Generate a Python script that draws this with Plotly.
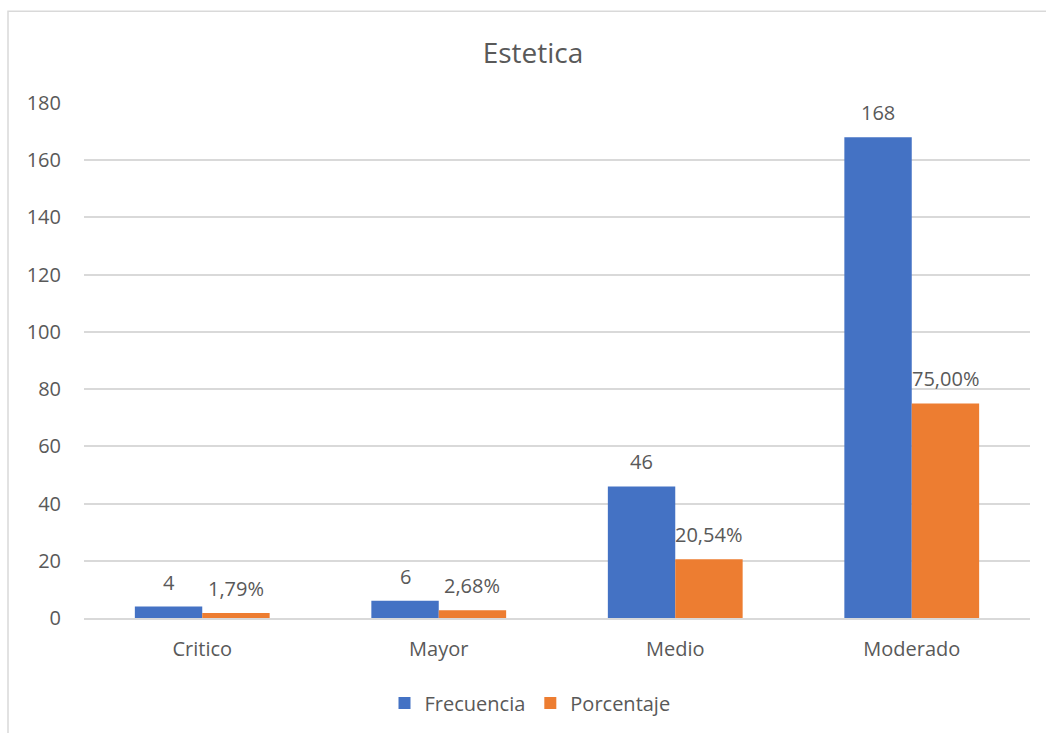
import plotly.graph_objects as go

categories = ["Critico", "Mayor", "Medio", "Moderado"]
frecuencia = [4, 6, 46, 168]
porcentaje = [1.79, 2.68, 20.54, 75.00]
frec_labels = ["4", "6", "46", "168"]
porc_labels = ["1,79%", "2,68%", "20,54%", "75,00%"]
y_ticks = [0, 20, 40, 60, 80, 100, 120, 140, 160, 180]

BLUE = "#4472C4"
ORANGE = "#ED7D31"
TXT = "#595959"
FONT = "Open Sans"

W, H = 1046, 733
ML, MR, MT, MB = 84, 16, 103, 114
PW = W - ML - MR
PH = H - MT - MB
BARGAP = 0.43
bar_px = PW / len(categories) * (1 - BARGAP) / 2

fig = go.Figure()
fig.add_trace(go.Bar(name="Frecuencia", x=categories, y=frecuencia, marker_color=BLUE,
                     marker_line_width=0))
fig.add_trace(go.Bar(name="Porcentaje", x=categories, y=porcentaje, marker_color=ORANGE,
                     marker_line_width=0))

annotations = []
for c, v, t in zip(categories, frecuencia, frec_labels):
    annotations.append(dict(x=c, y=v, xref="x", yref="y", text=t, showarrow=False,
                            xshift=-bar_px / 2, yshift=9, yanchor="bottom",
                            font=dict(size=20, color=TXT, family=FONT)))
for c, v, t in zip(categories, porcentaje, porc_labels):
    annotations.append(dict(x=c, y=v, xref="x", yref="y", text=t, showarrow=False,
                            xshift=bar_px / 2, yshift=9, yanchor="bottom",
                            font=dict(size=20, color=TXT, family=FONT)))

fig.update_layout(
    width=W, height=H,
    margin=dict(l=ML, r=MR, t=MT, b=MB),
    paper_bgcolor="white", plot_bgcolor="white",
    barmode="group", bargap=BARGAP, bargroupgap=0,
    font=dict(family=FONT, color=TXT, size=20),
    title=dict(text="Estetica", x=533 / W, xanchor="center",
               y=1 - 53 / H, yanchor="middle", font=dict(size=28, color=TXT, family=FONT)),
    showlegend=True,
    legend=dict(orientation="h", x=(530 - ML) / PW, xanchor="center", y=-(703 - 619) / PH,
                yanchor="middle", font=dict(size=20, color=TXT, family=FONT),
                itemwidth=30, traceorder="normal"),
    annotations=annotations,
    shapes=[dict(type="rect", xref="paper", yref="paper",
                 x0=(8 - ML) / PW, x1=(1060 - ML) / PW,
                 y0=-(750 - MT - PH) / PH, y1=1 + (MT - 11) / PH,
                 line=dict(color="#d9d9d9", width=1.5), fillcolor="rgba(0,0,0,0)", layer="below")],
)
fig.update_xaxes(showgrid=False, showline=True, linecolor="#d9d9d9", linewidth=1.5,
                 ticks="", tickfont=dict(size=20, color=TXT), ticklabelstandoff=12)
fig.update_yaxes(range=[0, 180], tickvals=y_ticks, showgrid=True, gridcolor="#d9d9d9",
                 gridwidth=1.5, zeroline=False, showline=False, ticks="",
                 tickfont=dict(size=20, color=TXT), ticklabelstandoff=22)

fig.write_html("out.html")
